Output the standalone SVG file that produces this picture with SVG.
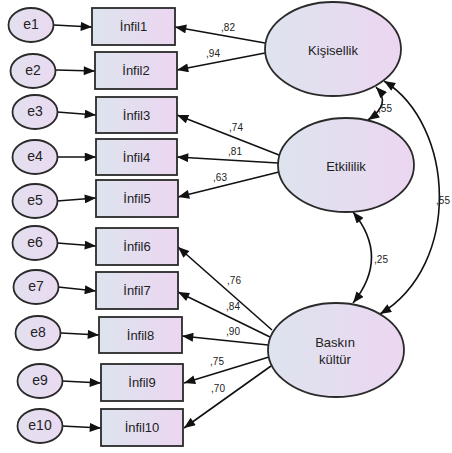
<svg xmlns="http://www.w3.org/2000/svg" width="452" height="453" viewBox="0 0 452 453">
<defs>
<linearGradient id="g" x1="0" y1="0" x2="1" y2="0">
<stop offset="0" stop-color="#dde4ee"/>
<stop offset="1" stop-color="#ecd6f1"/>
</linearGradient>
<linearGradient id="ge" x1="0" y1="0" x2="1" y2="0">
<stop offset="0" stop-color="#e2e0ef"/>
<stop offset="1" stop-color="#eadaf1"/>
</linearGradient>
<marker id="ah" viewBox="0 0 10 8" refX="10" refY="4" markerWidth="12" markerHeight="9" markerUnits="userSpaceOnUse" orient="auto-start-reverse">
<path d="M0,0 L10,4 L0,8 Z" fill="#111"/>
</marker>
<style>
.n{fill:url(#g);stroke:#2a2a2a;stroke-width:1.8}
.e{fill:url(#ge);stroke:#2a2a2a;stroke-width:1.8}
.t{font-family:"Liberation Sans",Arial,sans-serif;font-size:13px;fill:#222;text-anchor:middle;dominant-baseline:central}
.te{font-family:"Liberation Sans",Arial,sans-serif;font-size:14px;fill:#222;text-anchor:middle;dominant-baseline:central}
.l{font-family:"Liberation Sans",Arial,sans-serif;font-size:10px;fill:#222;text-anchor:middle;dominant-baseline:central}
.c{stroke:#111;stroke-width:1.6;fill:none;marker-end:url(#ah)}
.cv{stroke:#111;stroke-width:1.6;fill:none;marker-start:url(#ah);marker-end:url(#ah)}
</style>
</defs>

<g id="connectors">
<line class="c" x1="54" y1="25" x2="92" y2="27"/>
<line class="c" x1="56" y1="70" x2="95" y2="71"/>
<line class="c" x1="57" y1="112" x2="96" y2="115"/>
<line class="c" x1="57" y1="157" x2="96" y2="157"/>
<line class="c" x1="57" y1="201" x2="96" y2="198"/>
<line class="c" x1="57" y1="243" x2="96" y2="246"/>
<line class="c" x1="58" y1="287" x2="96" y2="291"/>
<line class="c" x1="61" y1="333" x2="99" y2="335"/>
<line class="c" x1="62" y1="381" x2="101" y2="383"/>
<line class="c" x1="62" y1="426" x2="101" y2="428"/>

<line class="c" x1="265" y1="43" x2="175" y2="27"/>
<line class="c" x1="265" y1="53" x2="177" y2="70"/>
<line class="c" x1="279" y1="155" x2="177" y2="115"/>
<line class="c" x1="278" y1="163" x2="177" y2="157"/>
<line class="c" x1="279" y1="172" x2="178" y2="197"/>
<line class="c" x1="272" y1="330" x2="178" y2="247"/>
<line class="c" x1="270" y1="337" x2="178" y2="292"/>
<line class="c" x1="268" y1="345" x2="182" y2="336"/>
<line class="c" x1="269" y1="357" x2="184" y2="383"/>
<line class="c" x1="271" y1="366" x2="184" y2="428"/>

<path class="cv" d="M376 87 Q392 104 368 120"/>
<path class="cv" d="M353 212 Q390 257 353 303"/>
<path class="cv" d="M384 81 C455 125 462 265 380 314"/>

<text class="l" x="228" y="27">,82</text>
<text class="l" x="213" y="53">,94</text>
<text class="l" x="236" y="127">,74</text>
<text class="l" x="235" y="151">,81</text>
<text class="l" x="220" y="177">,63</text>
<text class="l" x="234" y="280">,76</text>
<text class="l" x="233" y="306">,84</text>
<text class="l" x="233" y="331">,90</text>
<text class="l" x="217" y="361">,75</text>
<text class="l" x="218" y="388">,70</text>
<text class="l" x="385" y="108">,55</text>
<text class="l" x="381" y="259">,25</text>
<text class="l" x="450" y="200" style="text-anchor:end">,55</text>
</g>

<g id="e1"><ellipse class="e" cx="31" cy="25" rx="22.5" ry="17"/><text class="te" x="31" y="24">e1</text></g>
<g id="e2"><ellipse class="e" cx="33" cy="71" rx="22.5" ry="17"/><text class="te" x="33" y="70">e2</text></g>
<g id="e3"><ellipse class="e" cx="35" cy="112" rx="22.5" ry="17"/><text class="te" x="35" y="111">e3</text></g>
<g id="e4"><ellipse class="e" cx="35" cy="157" rx="22.5" ry="17"/><text class="te" x="35" y="156">e4</text></g>
<g id="e5"><ellipse class="e" cx="35" cy="201" rx="22.5" ry="17"/><text class="te" x="35" y="200">e5</text></g>
<g id="e6"><ellipse class="e" cx="35" cy="243" rx="22.5" ry="17"/><text class="te" x="35" y="242">e6</text></g>
<g id="e7"><ellipse class="e" cx="36" cy="287" rx="22.5" ry="17"/><text class="te" x="36" y="286">e7</text></g>
<g id="e8"><ellipse class="e" cx="38" cy="333" rx="22.5" ry="17"/><text class="te" x="38" y="332">e8</text></g>
<g id="e9"><ellipse class="e" cx="40" cy="381" rx="22.5" ry="17"/><text class="te" x="40" y="380">e9</text></g>
<g id="e10"><ellipse class="e" cx="40" cy="426" rx="22.5" ry="17"/><text class="te" x="40" y="425">e10</text></g>

<g id="infil1"><rect class="n" x="92" y="8" width="83" height="37"/><text class="t" x="133.5" y="26.5">İnfil1</text></g>
<g id="infil2"><rect class="n" x="95" y="52" width="82" height="37"/><text class="t" x="136" y="70.5">İnfil2</text></g>
<g id="infil3"><rect class="n" x="96" y="97" width="81" height="36"/><text class="t" x="136.5" y="115">İnfil3</text></g>
<g id="infil4"><rect class="n" x="96" y="139" width="81" height="36"/><text class="t" x="136.5" y="157">İnfil4</text></g>
<g id="infil5"><rect class="n" x="96" y="180" width="82" height="37"/><text class="t" x="137" y="198.5">İnfil5</text></g>
<g id="infil6"><rect class="n" x="96" y="228" width="82" height="37"/><text class="t" x="137" y="246.5">İnfil6</text></g>
<g id="infil7"><rect class="n" x="96" y="272" width="82" height="37"/><text class="t" x="137" y="290.5">İnfil7</text></g>
<g id="infil8"><rect class="n" x="99" y="317" width="83" height="36"/><text class="t" x="140.5" y="335">İnfil8</text></g>
<g id="infil9"><rect class="n" x="101" y="364" width="82" height="37"/><text class="t" x="142" y="382.5">İnfil9</text></g>
<g id="infil10"><rect class="n" x="101" y="409" width="82" height="37"/><text class="t" x="142" y="427.5">İnfil10</text></g>

<g id="kisisellik"><ellipse class="n" cx="333" cy="49" rx="68" ry="47"/><text class="t" x="333" y="50">Kişisellik</text></g>
<g id="etkililik"><ellipse class="n" cx="346" cy="165" rx="68" ry="47"/><text class="t" x="346" y="166">Etkililik</text></g>
<g id="baskin"><ellipse class="n" cx="336" cy="350" rx="68" ry="47"/><text class="t" x="335" y="342">Baskın</text><text class="t" x="335" y="359">kültür</text></g>
</svg>
